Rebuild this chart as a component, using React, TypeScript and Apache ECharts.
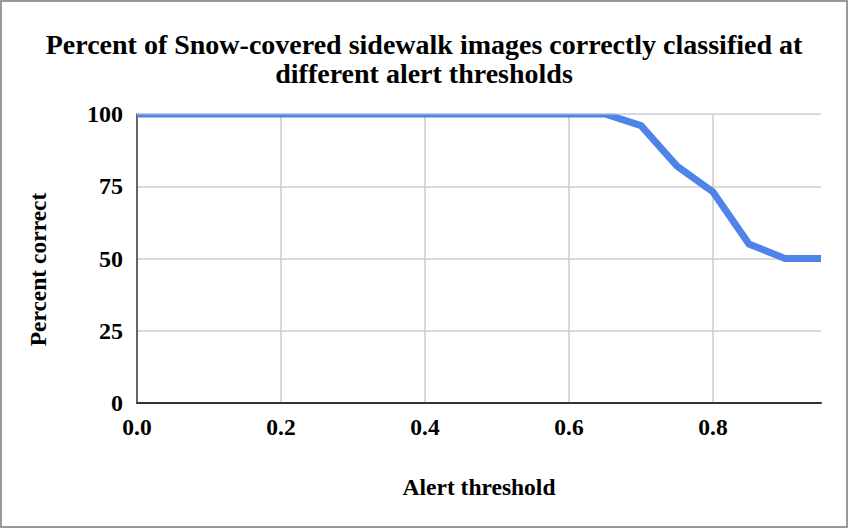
import React, { useEffect, useRef } from "react";
import * as echarts from "echarts";

const titleLines = [
  "Percent of Snow-covered sidewalk images correctly classified at",
  "different alert thresholds",
];
const xName = "Alert threshold";
const yName = "Percent correct";
const thresholds = [0.0, 0.05, 0.1, 0.15, 0.2, 0.25, 0.3, 0.35, 0.4, 0.45, 0.5, 0.55, 0.6, 0.65, 0.7, 0.75, 0.8, 0.85, 0.9, 0.95];
const percentCorrect = [100, 100, 100, 100, 100, 100, 100, 100, 100, 100, 100, 100, 100, 100, 96, 82, 73, 55, 50, 50];
const xMin = 0;
const xMax = 0.95;
const xInterval = 0.2;
const yMin = 0;
const yMax = 100;
const yInterval = 25;

const FONT = "'Liberation Serif', 'Times New Roman', serif";

export default function App() {
  const ref = useRef<HTMLDivElement>(null);
  useEffect(() => {
    if (!ref.current) return;
    const chart = echarts.init(ref.current, null, { renderer: "svg" });
    const gridLeft = 137;
    const gridTop = 114;
    const gridRight = 27;
    const gridBottom = 125;
    chart.setOption({
      animation: false,
      backgroundColor: "#ffffff",
      title: {
        text: titleLines.join("\n"),
        left: "center",
        top: 25,
        textStyle: {
          fontFamily: FONT,
          fontWeight: "bold",
          fontSize: 28,
          lineHeight: 29,
          color: "#000",
          align: "center",
        },
      },
      grid: { left: gridLeft, right: gridRight, top: gridTop, bottom: gridBottom, containLabel: false },
      xAxis: {
        type: "value",
        min: xMin,
        max: xMax,
        interval: xInterval,
        name: xName,
        nameLocation: "middle",
        nameGap: 72,
        nameTextStyle: { fontFamily: FONT, fontWeight: "bold", fontSize: 23.5, color: "#000" },
        axisLine: { show: true, lineStyle: { color: "#333", width: 2 } },
        axisTick: { show: false },
        axisLabel: {
          margin: 12,
          showMaxLabel: false,
          fontFamily: FONT,
          fontWeight: "bold",
          fontSize: 23.5,
          color: "#000",
          formatter: (v: number) => v.toFixed(1),
        },
        splitLine: { show: true, showMinLine: false, showMaxLine: false, lineStyle: { color: "#cccccc", width: 1.5 } },
      },
      yAxis: {
        type: "value",
        min: yMin,
        max: yMax,
        interval: yInterval,
        name: yName,
        nameLocation: "middle",
        nameGap: 87,
        nameRotate: 90,
        nameTextStyle: { fontFamily: FONT, fontWeight: "bold", fontSize: 23.5, color: "#000", padding: [0, 22, 0, 0] },
        axisLine: { show: true, lineStyle: { color: "#333", width: 1.5 } },
        axisTick: { show: false },
        axisLabel: { margin: 14, fontFamily: FONT, fontWeight: "bold", fontSize: 24, color: "#000" },
        splitLine: { show: true, lineStyle: { color: "#cccccc", width: 1.5 } },
      },
      series: [
        {
          type: "line",
          data: thresholds.map((t, i) => [t, percentCorrect[i]]),
          showSymbol: false,
          symbol: "none",
          lineStyle: { color: "#5083e8", width: 7, cap: "butt", join: "miter" },
          z: 2,
        },
      ],
      graphic: [
        {
          type: "rect",
          z: 10,
          silent: true,
          shape: { x: gridLeft, y: 95, width: 848 - gridLeft - 10, height: gridTop - 95 - 0.5 },
          style: { fill: "#ffffff" },
        },
        {
          type: "line",
          z: 11,
          silent: true,
          shape: { x1: gridLeft, y1: gridTop, x2: 848 - gridRight, y2: gridTop },
          style: { stroke: "#c8cfdc", lineWidth: 1 },
        },
        {
          type: "rect",
          z: 20,
          silent: true,
          shape: { x: 1, y: 1, width: 846, height: 526 },
          style: { fill: "none", stroke: "#9a9a9a", lineWidth: 2 },
        },
      ],
    });
    return () => chart.dispose();
  }, []);
  return (
    <div
      ref={ref}
      style={{ position: "fixed", left: 0, top: 0, width: 848, height: 528 }}
    />
  );
}
